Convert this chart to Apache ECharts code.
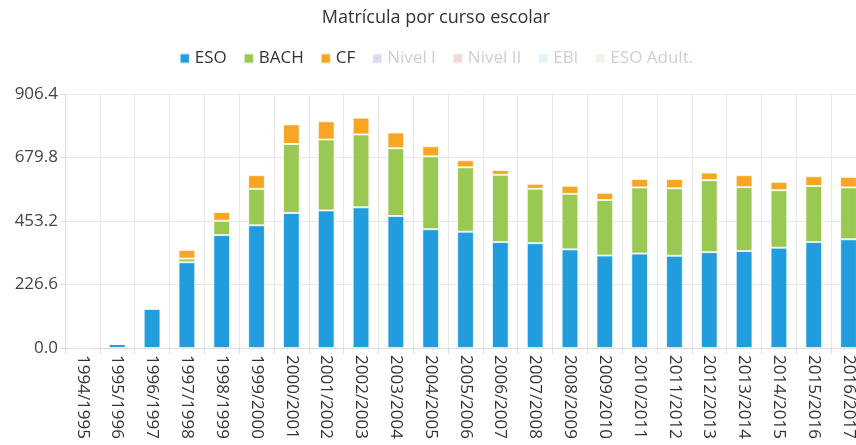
<!DOCTYPE html>
<html>
<head>
<meta charset="utf-8">
<script src="https://cdn.jsdelivr.net/npm/echarts@6/dist/echarts.min.js"></script>
<style>
  html, body { margin: 0; padding: 0; background: #fff; overflow: hidden; }
  #chart { width: 872px; height: 445px; }
</style>
</head>
<body>
<div id="chart"></div>
<script>
// cursos escolares
const cursos = ['1994/1995', '1995/1996', '1996/1997', '1997/1998', '1998/1999', '1999/2000',
  '2000/2001', '2001/2002', '2002/2003', '2003/2004', '2004/2005', '2005/2006', '2006/2007',
  '2007/2008', '2008/2009', '2009/2010', '2010/2011', '2011/2012', '2012/2013', '2013/2014',
  '2014/2015', '2015/2016', '2016/2017']

const eso = [2, 14, 140, 306, 403, 438, 482, 491, 502, 471, 424, 415, 378,
  374, 352, 330, 337, 329, 342, 346, 358, 378, 388]
const bach = [0, 0, 0, 13, 51, 130, 246, 253, 260, 242, 260, 230, 240,
  194, 198, 198, 236, 241, 257, 228, 205, 200, 185]
const cf = [0, 0, 0, 31, 31, 49, 70, 65, 60, 56, 36, 25, 17,
  18, 29, 26, 30, 33, 27, 43, 30, 35, 38]
// series sin datos visibles (desactivadas en la leyenda)
const nivel1 = []
const nivel2 = []
const ebi = []
const esoAdult = []

const yMax = 906.4
const yStep = 226.6

const fontFamily = '"Open Sans", "DejaVu Sans", sans-serif'

function serie(name, data, color) {
  return {
    name: name,
    type: 'bar',
    stack: 'total',
    barWidth: '48%',
    data: data,
    itemStyle: {
      color: color,
      borderColor: 'rgba(255,255,255,0.7)',
      borderWidth: 1
    }
  }
}

function faded(name, color) {
  return {
    name: name,
    itemStyle: { color: color },
    textStyle: { color: '#cfcfcf' }
  }
}

const chart = echarts.init(document.getElementById('chart'))
chart.setOption({
  animation: false,
  textStyle: { fontFamily: fontFamily },
  title: {
    text: 'Matrícula por curso escolar',
    left: 'center',
    top: 4,
    textStyle: { fontSize: 18, fontWeight: 'normal', color: '#333', fontFamily: fontFamily }
  },
  legend: {
    top: 45,
    left: 'center',
    itemWidth: 10,
    itemHeight: 10,
    itemGap: 16,
    icon: 'rect',
    textStyle: { fontSize: 17, color: '#333', fontFamily: fontFamily },
    data: [
      'ESO', 'BACH', 'CF',
      faded('Nivel I', '#dcd8f2'),
      faded('Nivel II', '#f0d8d5'),
      faded('EBI', '#e3f1fb'),
      faded('ESO Adult.', '#eef4e6')
    ]
  },
  grid: { left: 65, right: 6, top: 94, bottom: 97, containLabel: false },
  xAxis: {
    type: 'category',
    data: cursos,
    axisLine: { lineStyle: { color: '#ddd' } },
    axisTick: { show: true, length: 6, lineStyle: { color: '#ddd' } },
    axisLabel: { rotate: -90, fontSize: 17, color: '#333', margin: 7, interval: 0 },
    splitLine: { show: true, lineStyle: { color: '#e8e8e8' } }
  },
  yAxis: {
    type: 'value',
    min: 0,
    max: yMax,
    interval: yStep,
    axisLine: { show: true, lineStyle: { color: '#ddd' } },
    axisTick: { show: true, length: 5, lineStyle: { color: '#ddd' } },
    axisLabel: {
      fontSize: 17,
      color: '#444',
      margin: 7,
      formatter: v => v.toFixed(1)
    },
    splitLine: { show: true, lineStyle: { color: '#e8e8e8' } }
  },
  series: [
    serie('ESO', eso, '#219ddd'),
    serie('BACH', bach, '#99c853'),
    serie('CF', cf, '#f6a623'),
    serie('Nivel I', nivel1, '#dcd8f2'),
    serie('Nivel II', nivel2, '#f0d8d5'),
    serie('EBI', ebi, '#e3f1fb'),
    serie('ESO Adult.', esoAdult, '#eef4e6')
  ]
})
</script>
</body>
</html>
